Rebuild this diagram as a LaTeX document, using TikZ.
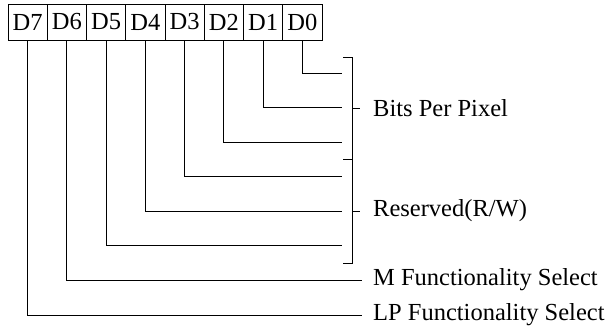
\documentclass[tikz,border=0pt]{standalone}
\usepackage{fontspec}
\setmainfont{Liberation Serif}
\usetikzlibrary{positioning}
\tikzset{
  celda/.style={draw,line width=0.8pt,minimum width=39.25pt,minimum height=36pt,inner sep=0pt,outer sep=0pt,font=\fontsize{24.5}{28}\selectfont},
  linea/.style={line width=0.9pt},
  etiqueta/.style={anchor=west,inner xsep=11pt,inner ysep=0pt,font=\fontsize{24.5}{28}\selectfont},
}
\begin{document}
\begin{tikzpicture}[x=1pt,y=-1pt]
  \useasboundingbox (0,0) rectangle (610,325);
  % registro
  \foreach \b [count=\i from 0] in {7,...,0}
    \node[celda] (d\b) at (27.6+39.25*\i,22) {D\b};
  % llaves
  \coordinate (llsup) at (343,57);
  \coordinate (llmed) at (343,159.5);
  \coordinate (llinf) at (343,263);
  \draw[linea] (llsup) -- ++(9,0) coordinate (esq1) -- (esq1 |- llinf) -- (llinf);
  \draw[linea] (llmed) -- ++(9,0);
  \node[etiqueta,inner xsep=13pt] (bpp) at (360,108) {Bits Per Pixel};
  \node[etiqueta,inner xsep=13pt] (res) at (360,211) {Reserved(R/W)};
  \draw[linea] (esq1 |- bpp) -- (bpp.west);
  \draw[linea] (esq1 |- res) -- (res.west);
  \node[etiqueta] (msel) at (362,280) {M Functionality Select};
  \node[etiqueta] (lpsel) at (362,315) {LP Functionality Select};
  % conexiones
  \foreach \b [count=\k from 0] in {0,...,5}
    \coordinate (fin\b) at (342,73+34.57*\k);
  \foreach \b in {0,...,5}
    \draw[linea] (d\b.south) |- (fin\b);
  \draw[linea] (d6.south) |- (msel.west);
  \draw[linea] (d7.south) |- (lpsel.west);
\end{tikzpicture}
\end{document}
